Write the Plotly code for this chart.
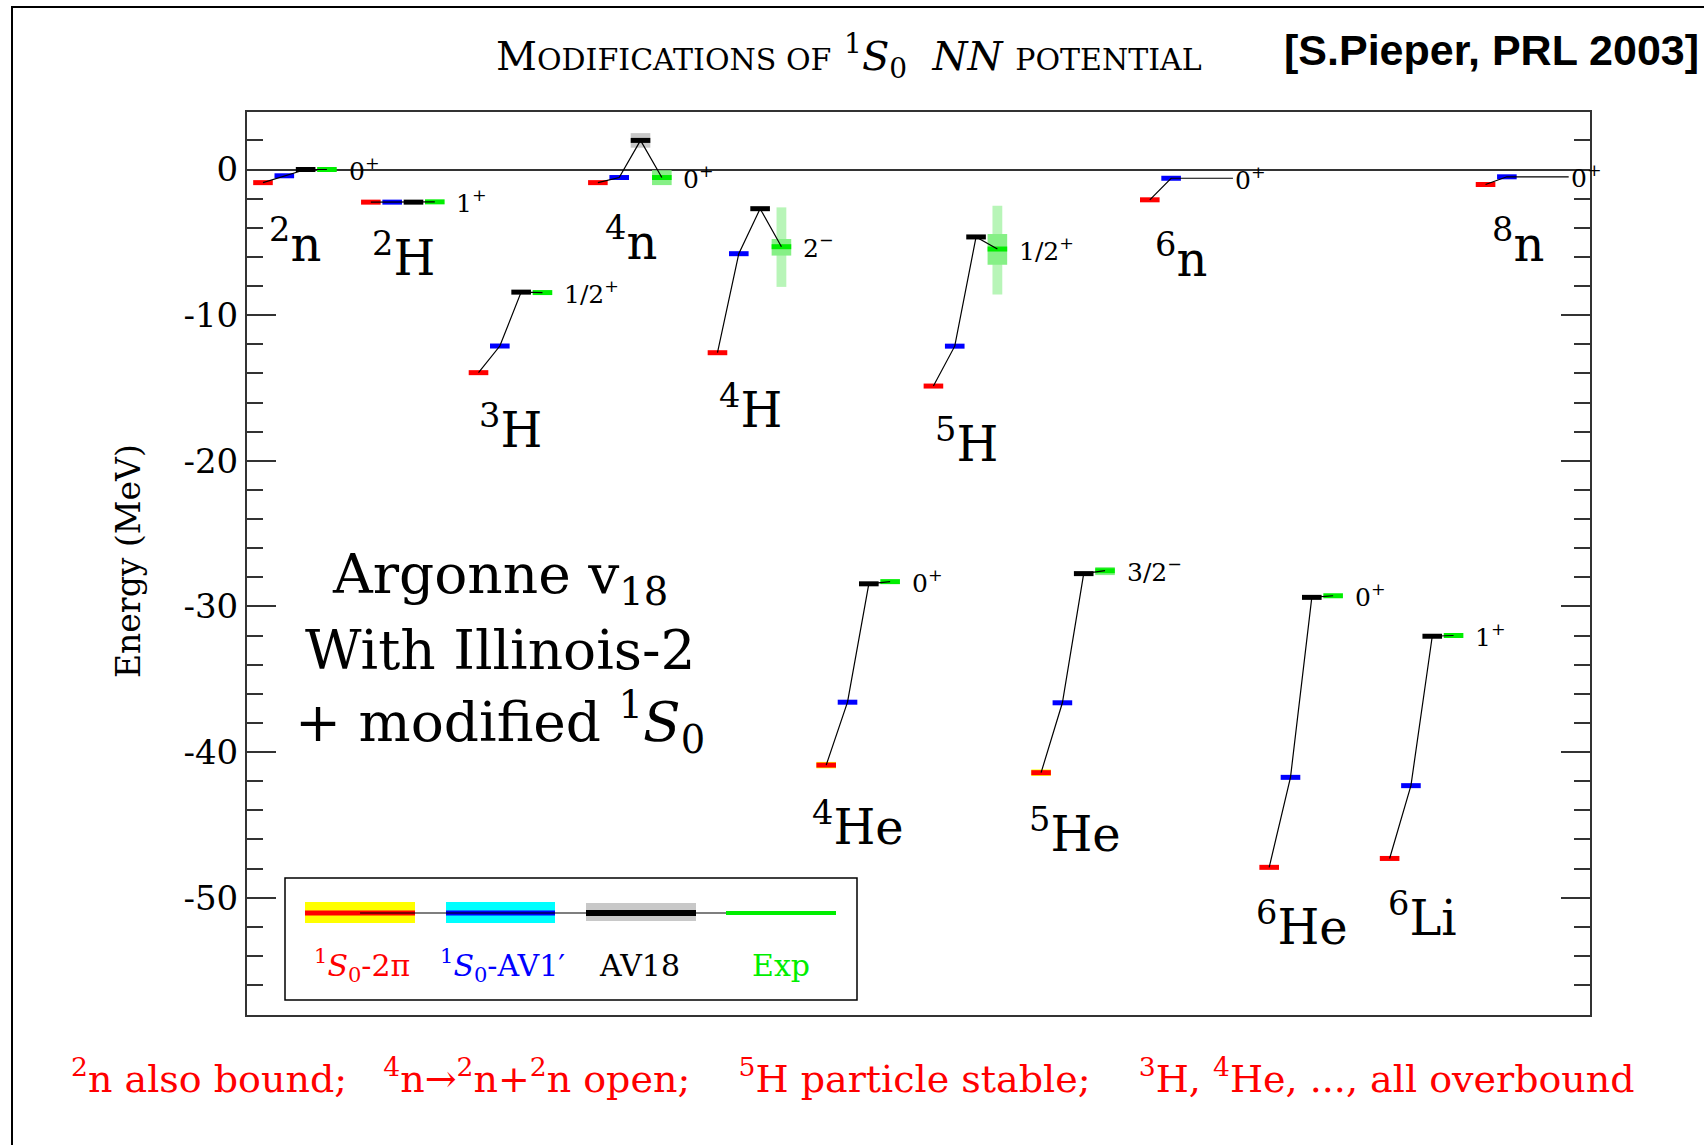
import plotly.graph_objects as go

# ---------------- data ----------------
nuclei = ["2n", "2H", "3H", "4n", "4H", "4He", "5H", "5He", "6n", "6He", "6Li", "8n"]
nucleus_text = ["<sup>2</sup>n", "<sup>2</sup>H", "<sup>3</sup>H", "<sup>4</sup>n", "<sup>4</sup>H",
                "<sup>4</sup>He", "<sup>5</sup>H", "<sup>5</sup>He", "<sup>6</sup>n", "<sup>6</sup>He",
                "<sup>6</sup>Li", "<sup>8</sup>n"]
spin_text = ["0<sup>+</sup>", "1<sup>+</sup>", "1/2<sup>+</sup>", "0<sup>+</sup>", "2<sup>\u2212</sup>",
             "0<sup>+</sup>", "1/2<sup>+</sup>", "3/2<sup>\u2212</sup>", "0<sup>+</sup>", "0<sup>+</sup>",
             "1<sup>+</sup>", "0<sup>+</sup>"]

# energies (MeV)
E_2pi = [-0.9, -2.24, -13.95, -0.9, -12.58, -40.9, -14.87, -41.42, -2.08, -47.92, -47.31, -1.03]
E_av1 = [-0.43, -2.24, -12.12, -0.55, -5.78, -36.58, -12.13, -36.62, -0.6, -41.74, -42.31, -0.5]
E_av18 = [0.0, -2.24, -8.42, 2.0, -2.69, -28.45, -4.63, -27.75, None, -29.38, -32.05, None]
E_exp = [0.0, -2.22, -8.45, -0.55, -5.3, -28.3, -5.46, -27.55, None, -29.27, -32.0, None]

# statistical / experimental uncertainties (MeV)
err_2pi = [0, 0, 0, 0, 0, 0.22, 0, 0.22, 0, 0, 0, 0]
err_av18 = [0, 0, 0, 0.5, 0, 0, 0, 0, 0, 0, 0, 0]
exp_box_lo = [None, None, None, -1.07, -5.91, None, -6.54, -27.85, None, None, None, None]
exp_box_hi = [None, None, None, -0.05, -4.77, None, -4.43, -27.3, None, None, None, None]
exp_range_lo = [None, None, None, None, -8.06, None, -8.59, None, None, None, None, None]
exp_range_hi = [None, None, None, None, -2.6, None, -2.49, None, None, None, None, None]

yticks = [0, -10, -20, -30, -40, -50]
ytick_text = ["0", "-10", "-20", "-30", "-40", "-50"]

# ---------------- layout positions ----------------
group_x = [0.75, 5.81, 10.86, 16.46, 22.07, 27.17, 32.2, 37.25, 42.35, 47.95, 53.6, 58.1]
label_pos = [(2.24, -4.93), (7.34, -5.9), (12.38, -17.69), (17.99, -4.78), (23.6, -16.34),
             (28.64, -44.92), (33.74, -18.66), (38.84, -45.45), (43.83, -5.97), (49.49, -51.79),
             (55.15, -51.19), (59.63, -4.93)]
HW = 0.46       # half width of a level bar
SLOT = 1.0      # spacing between the four bars of one nucleus

RED, BLUE, BLACK, GREEN = "#ff0000", "#0000ff", "#000000", "#00ee00"
SERIF = "DejaVu Serif"

W, H = 1704, 1145
L, R, T, B = 247, 114, 112, 130
PW, PH = W - L - R, H - T - B


def pxx(p):
    return (p - L) / PW


def pxy(p):
    return (H - B - p) / PH


fig = go.Figure()


def band(x0, x1, lo, hi, color):
    fig.add_trace(go.Scatter(x=[x0, x1, x1, x0, x0], y=[lo, lo, hi, hi, lo], mode="lines",
                             fill="toself", fillcolor=color, line=dict(width=0),
                             hoverinfo="skip", showlegend=False))


# uncertainty bands
for i, gx in enumerate(group_x):
    if err_2pi[i]:
        band(gx - HW, gx + HW, E_2pi[i] - err_2pi[i], E_2pi[i] + err_2pi[i], "#ffff00")
    if err_av18[i] and E_av18[i] is not None:
        c = gx + 2 * SLOT
        band(c - HW, c + HW, E_av18[i] - err_av18[i], E_av18[i] + err_av18[i], "#c8c8c8")
    c = gx + 3 * SLOT
    if exp_range_lo[i] is not None:
        band(c - HW * 0.5, c + HW * 0.5, exp_range_lo[i], exp_range_hi[i], "#b8f5b8")
    if exp_box_lo[i] is not None:
        band(c - HW, c + HW, exp_box_lo[i], exp_box_hi[i], "#86f086")

# level bars
series = [(E_2pi, RED, 0), (E_av1, BLUE, 1), (E_av18, BLACK, 2), (E_exp, GREEN, 3)]
for vals, col, k in series:
    xs, ys = [], []
    for gx, e in zip(group_x, vals):
        if e is None:
            continue
        c = gx + k * SLOT
        xs += [c - HW, c + HW, None]
        ys += [e, e, None]
    fig.add_trace(go.Scatter(x=xs, y=ys, mode="lines", line=dict(color=col, width=5),
                             hoverinfo="skip", showlegend=False))

# connecting lines
xs, ys = [], []
for i, gx in enumerate(group_x):
    for k, vals in enumerate([E_2pi, E_av1, E_av18, E_exp]):
        if vals[i] is not None:
            xs.append(gx + k * SLOT)
            ys.append(vals[i])
    if E_av18[i] is None:
        xs.append(gx + 3 * SLOT + 0.9)
        ys.append(E_av1[i])
    xs.append(None)
    ys.append(None)
fig.add_trace(go.Scatter(x=xs, y=ys, mode="lines", line=dict(color="black", width=1.2),
                         hoverinfo="skip", showlegend=False))

annotations = []
# nucleus names
for (lx, ly), t in zip(label_pos, nucleus_text):
    annotations.append(dict(x=lx, y=ly, xref="x", yref="y", text=t, showarrow=False,
                            font=dict(family=SERIF, size=48, color="black"),
                            xanchor="center", yanchor="middle"))
# spin labels
for i, gx in enumerate(group_x):
    ey = E_exp[i] if E_exp[i] is not None else E_av1[i]
    annotations.append(dict(x=gx + 3 * SLOT + 0.92, y=ey, xref="x", yref="y", text=spin_text[i],
                            showarrow=False, font=dict(family=SERIF, size=25, color="black"),
                            xanchor="left", yanchor="middle"))

# big text block
for txt, ypix in [("Argonne v<sub>18</sub>", 578), ("With Illinois-2", 650),
                  ("+ modified <sup>1</sup><i>S</i><sub>0</sub>", 722)]:
    annotations.append(dict(x=pxx(500), y=pxy(ypix), xref="paper", yref="paper", text=txt,
                            showarrow=False, font=dict(family=SERIF, size=55, color="black"),
                            xanchor="center", yanchor="middle"))

# legend labels
for txt, cx, col in [("<sup>1</sup><i>S</i><sub>0</sub>-2\u03c0", 362, RED),
                     ("<sup>1</sup><i>S</i><sub>0</sub>-AV1\u2032", 502, BLUE),
                     ("AV18", 639, BLACK), ("Exp", 781, GREEN)]:
    annotations.append(dict(x=pxx(cx), y=pxy(965), xref="paper", yref="paper", text=txt,
                            showarrow=False, font=dict(family=SERIF, size=30, color=col),
                            xanchor="center", yanchor="middle"))

# title
annotations.append(dict(
    x=pxx(849), y=pxy(56), xref="paper", yref="paper", showarrow=False,
    text=('M<span style="font-size:30px">ODIFICATIONS OF</span> <sup>1</sup><i>S</i><sub>0</sub>'
          '\u00a0\u00a0<i>NN</i> <span style="font-size:30px">POTENTIAL</span>'),
    font=dict(family=SERIF, size=40, color="black"), xanchor="center", yanchor="middle"))
annotations.append(dict(x=pxx(1701), y=pxy(50), xref="paper", yref="paper", showarrow=False,
                        text="<b>[S.Pieper, PRL 2003]</b>",
                        font=dict(family="Liberation Sans", size=43, color="black"),
                        xanchor="right", yanchor="middle"))
# y axis title
annotations.append(dict(x=pxx(128), y=pxy(561), xref="paper", yref="paper", showarrow=False,
                        text="Energy (MeV)", textangle=-90,
                        font=dict(family=SERIF, size=33, color="black"),
                        xanchor="center", yanchor="middle"))
# bottom remark
sp = "\u00a0"
annotations.append(dict(
    x=pxx(853), y=pxy(1076), xref="paper", yref="paper", showarrow=False,
    text=("<sup>2</sup>n also bound;" + sp * 3 + "<sup>4</sup>n\u2192<sup>2</sup>n+<sup>2</sup>n open;" + sp * 4
          + "<sup>5</sup>H particle stable;" + sp * 4 + "<sup>3</sup>H, <sup>4</sup>He, ..., all overbound"),
    font=dict(family=SERIF, size=38, color="#ff0000"), xanchor="center", yanchor="middle"))

shapes = []
# outer frame
shapes.append(dict(type="rect", xref="paper", yref="paper", x0=pxx(12), x1=pxx(1730),
                   y0=pxy(1170), y1=pxy(7), line=dict(color="black", width=2)))
# legend box
shapes.append(dict(type="rect", xref="paper", yref="paper", x0=pxx(285), x1=pxx(857),
                   y0=pxy(1000), y1=pxy(878), line=dict(color="black", width=1.5)))
for (x0, x1, y0, y1, col) in [(305, 415, 902, 923, "#ffff00"), (446, 555, 902, 923, "#00ffff"),
                              (586, 696, 903, 921, "#c8c8c8")]:
    shapes.append(dict(type="rect", xref="paper", yref="paper", x0=pxx(x0), x1=pxx(x1),
                       y0=pxy(y1), y1=pxy(y0), line=dict(width=0), fillcolor=col))
for (x0, x1, col, w) in [(305, 415, RED, 5), (446, 555, BLUE, 5), (586, 696, BLACK, 6),
                         (726, 836, GREEN, 4), (360, 726, BLACK, 1.2)]:
    shapes.append(dict(type="line", xref="paper", yref="paper", x0=pxx(x0), x1=pxx(x1),
                       y0=pxy(913), y1=pxy(913), line=dict(color=col, width=w)))

fig.update_layout(
    width=W, height=H, margin=dict(l=L, r=R, t=T, b=B),
    paper_bgcolor="white", plot_bgcolor="white", showlegend=False,
    annotations=annotations, shapes=shapes,
    xaxis=dict(range=[0, 63], showgrid=False, zeroline=False, showticklabels=False, ticks="",
               showline=True, linecolor="#333333", linewidth=2, mirror=True, fixedrange=True),
    yaxis=dict(range=[-58.06, 3.95], showgrid=False, zeroline=True, zerolinecolor="#333333",
               zerolinewidth=2, showline=True, linecolor="#333333", linewidth=2, mirror="ticks",
               tickmode="array", tickvals=yticks, ticktext=ytick_text, ticks="inside", ticklen=29,
               tickwidth=1.5, tickcolor="#333333", ticklabelstandoff=0,
               tickfont=dict(family=SERIF, size=34, color="black"),
               minor=dict(tickmode="array", tickvals=list(range(2, -58, -2)), ticks="inside",
                          ticklen=16, tickwidth=1.5, tickcolor="#333333")),
)

fig.write_html("out.html")
